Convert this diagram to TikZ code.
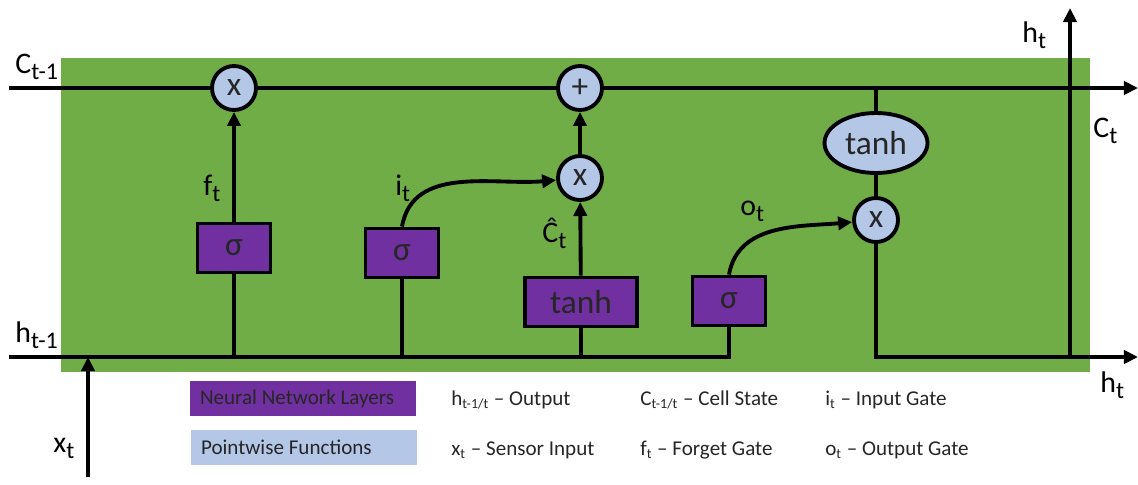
\documentclass[tikz,border=0pt]{standalone}
\usepackage{fontspec}
\setmainfont{Carlito}
\usetikzlibrary{arrows.meta,positioning,shapes.geometric,calc}
\definecolor{cellgreen}{HTML}{70AD47}
\definecolor{nnpurple}{HTML}{7030A0}
\definecolor{pwblue}{HTML}{B4C7E7}
\newcommand{\lsub}[1]{\raisebox{-0.45ex}{\fontsize{0.8em}{1em}\selectfont #1}}
\tikzset{
  >={Triangle[length=8pt,width=7.5pt]},
  flow/.style={line width=2.2pt},
}

\begin{document}
\begin{tikzpicture}[
  x=0.02cm,y=-0.02cm,
  layer/.style={draw,line width=2.2pt,fill=nnpurple,minimum width=1.46cm,minimum height=0.98cm,
    inner sep=0,text=black!85,font=\fontsize{19}{21}\selectfont},
  pointwise/.style={circle,draw,line width=2.2pt,fill=pwblue,minimum size=0.88cm,
    inner sep=0,text=black!85,font=\fontsize{19}{21}\selectfont},
  lbl/.style={anchor=base west,inner sep=0,font=\fontsize{17}{19}\selectfont},
  legend/.style={anchor=base west,inner sep=0,font=\fontsize{12}{14}\selectfont,text=black!85},
  legbox/.style={minimum width=4.52cm,minimum height=0.7cm,text width=4.12cm,inner xsep=0.2cm,
    align=flush left,font=\fontsize{12}{14}\selectfont,text=black!85}
]
\useasboundingbox (0,0) rectangle (1138,484);
\fill[cellgreen] (61,58) rectangle (1090,372);

\coordinate (cin) at (9,88);
\coordinate (cout) at (1138,88);
\coordinate (ctap) at (876,88);
\coordinate (hin) at (9,357);
\coordinate (hsplit) at (729,357);
\coordinate (hout) at (1138,357);
\coordinate (htap) at (1070,357);
\coordinate (hup) at (1070,8);
\coordinate (xin) at (88,477);

\node[pointwise] (fmul) at (234,88) {x};
\node[pointwise] (addc) at (580,88) {+};
\node[pointwise] (imul) at (580,178) {x};
\node[pointwise] (omul) at (876,220) {x};
\node[ellipse,draw,line width=2.2pt,fill=pwblue,minimum width=2.06cm,minimum height=1.2cm,
  inner sep=0,text=black!85,font=\fontsize{19}{21}\selectfont] (tanhc) at (876,143) {tanh};

\node[layer] (fsig) at (234,248) {σ};
\node[layer] (isig) at (402,253) {σ};
\node[layer,minimum width=2.24cm] (ctanh) at (581,302) {tanh};
\node[layer] (osig) at (729,301) {σ};

\draw[flow] (cin) -- (fmul);
\draw[flow] (fmul) -- (addc);
\draw[flow,->] (addc) -- (cout);
\draw[flow] (ctap) -- (tanhc);
\draw[flow] (tanhc) -- (omul);
\draw[flow,->] (omul) |- (hout);
\draw[flow,->] (htap) -- (hup);
\draw[flow] (hin) -- (hsplit) -- (osig);
\draw[flow,->] (xin) -- (xin |- hin);

\draw[flow] (fsig) -- (fsig |- hin);
\draw[flow,->] (fsig) -- (fmul);
\draw[flow] (isig) -- (isig |- hin);
\draw[flow,->] (isig.north) to[out=80,in=185] (imul);
\draw[flow] (ctanh) -- (ctanh |- hin);
\draw[flow,->] (ctanh) -- (imul);
\draw[flow,->] (imul) -- (addc);
\draw[flow,->] (osig.north) to[out=80,in=185] (omul);

\node[lbl] (lcprev) at (15,73) {C\lsub{t-1}};
\node[lbl] (lhprev) at (15,342) {h\lsub{t-1}};
\node[lbl] (lx) at (53,452) {x\lsub{t}};
\node[lbl] (lhup) at (1022,42) {h\lsub{t}};
\node[lbl] (lc) at (1093,137) {C\lsub{t}};
\node[lbl] (lhout) at (1100,392) {h\lsub{t}};
\node[lbl] (lf) at (203,195) {f\lsub{t}};
\node[lbl] (li) at (395,195) {i\lsub{t}};
\node[lbl] (lchat) at (542,242) {Ĉ\lsub{t}};
\node[lbl] (lo) at (740,215) {o\lsub{t}};

\node[legbox,fill=nnpurple] (nnkey) at (303,398.5) {Neural Network Layers};
\node[legbox,fill=pwblue] (pwkey) at (304,447.5) {Pointwise Functions};
\node[legend] (kh) at (451,405) {h\textsubscript{t-1/t} – Output};
\node[legend] (kx) at (451,455) {x\textsubscript{t} – Sensor Input};
\node[legend] (kc) at (640,405) {C\textsubscript{t-1/t} – Cell State};
\node[legend] (kf) at (640,455) {f\textsubscript{t} – Forget Gate};
\node[legend] (ki) at (825,405) {i\textsubscript{t} – Input Gate};
\node[legend] (ko) at (825,455) {o\textsubscript{t} – Output Gate};
\end{tikzpicture}
\end{document}
